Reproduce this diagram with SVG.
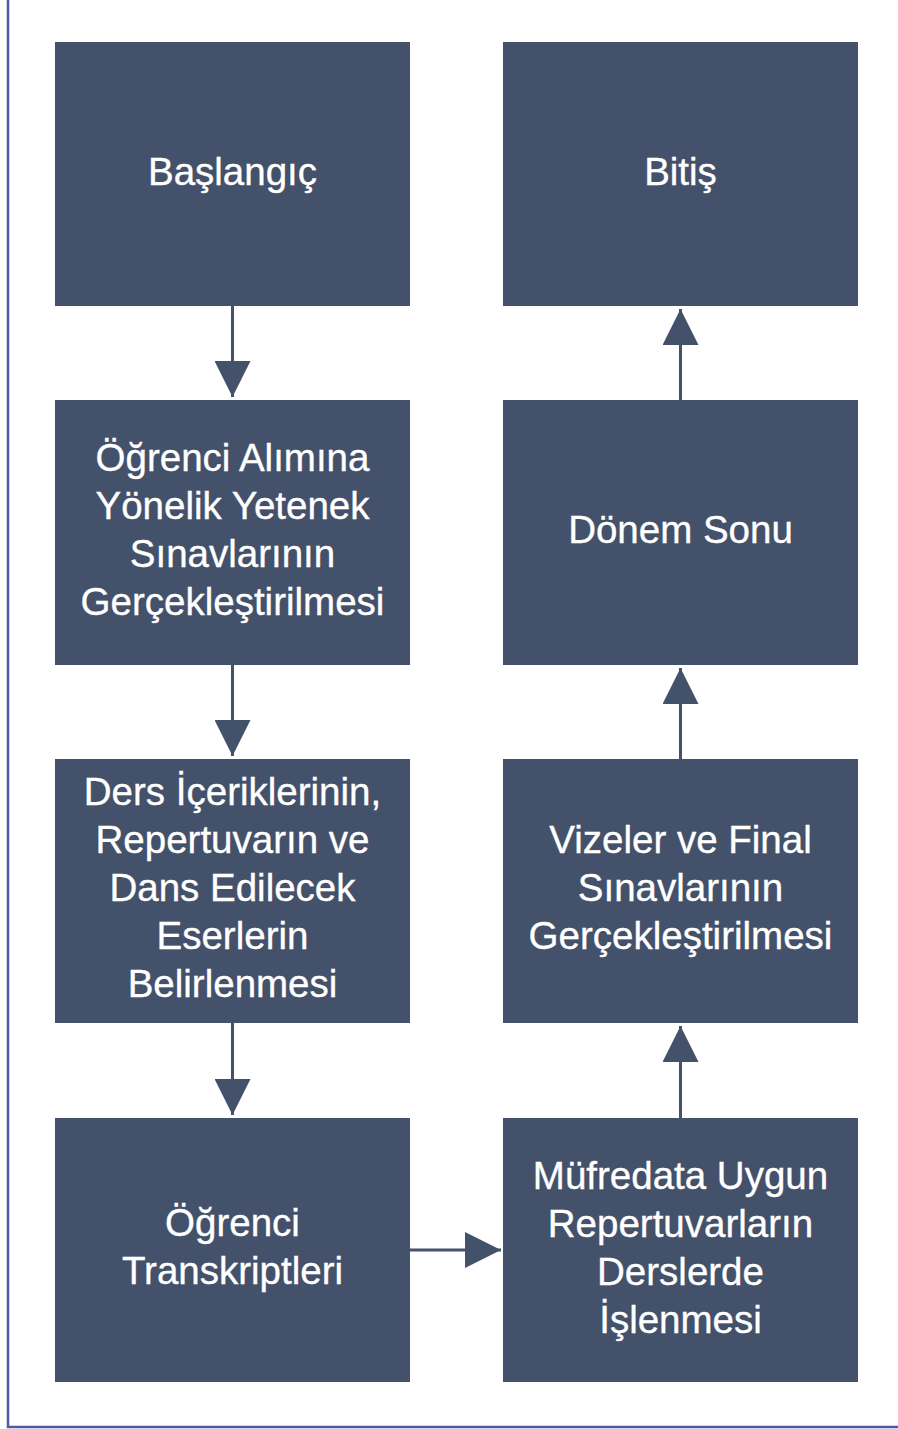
<svg xmlns="http://www.w3.org/2000/svg" width="898" height="1429" viewBox="0 0 898 1429">
<style>
.box{fill:#44516a;}
.t{font-family:"Liberation Sans",Arial,sans-serif;font-size:38.5px;fill:#ffffff;stroke:#ffffff;stroke-width:0.35;text-anchor:middle;}
.c{stroke:#44516a;stroke-width:3;fill:none;}
</style>
<defs>
<marker id="ah" markerUnits="userSpaceOnUse" markerWidth="36" markerHeight="36" refX="35" refY="17.5" orient="auto" viewBox="0 0 35 35">
<path d="M0,0 L35,17.5 L0,35 z" fill="#44516a"/>
</marker>
</defs>
<rect width="898" height="1429" fill="#ffffff"/>
<rect x="8" y="-10" width="900" height="1437" fill="none" stroke="#5058a0" stroke-width="2.5"/>
<g id="connectors">
<line class="c" x1="232.5" y1="306" x2="232.5" y2="397" marker-end="url(#ah)"/>
<line class="c" x1="232.5" y1="665" x2="232.5" y2="756" marker-end="url(#ah)"/>
<line class="c" x1="232.5" y1="1023" x2="232.5" y2="1115" marker-end="url(#ah)"/>
<line class="c" x1="410" y1="1250" x2="501" y2="1250" marker-end="url(#ah)"/>
<line class="c" x1="680.5" y1="1118" x2="680.5" y2="1026" marker-end="url(#ah)"/>
<line class="c" x1="680.5" y1="759" x2="680.5" y2="668" marker-end="url(#ah)"/>
<line class="c" x1="680.5" y1="400" x2="680.5" y2="309" marker-end="url(#ah)"/>
</g>
<g id="n1"><rect class="box" x="55" y="42" width="355" height="264"/>
<text class="t" x="232.5" y="185">Başlangıç</text></g>
<g id="n2"><rect class="box" x="55" y="400" width="355" height="265"/>
<text class="t" x="232.5" y="471">Öğrenci Alımına</text>
<text class="t" x="232.5" y="519">Yönelik Yetenek</text>
<text class="t" x="232.5" y="567">Sınavlarının</text>
<text class="t" x="232.5" y="615">Gerçekleştirilmesi</text></g>
<g id="n3"><rect class="box" x="55" y="759" width="355" height="264"/>
<text class="t" x="232.5" y="805">Ders İçeriklerinin,</text>
<text class="t" x="232.5" y="853">Repertuvarın ve</text>
<text class="t" x="232.5" y="901">Dans Edilecek</text>
<text class="t" x="232.5" y="949">Eserlerin</text>
<text class="t" x="232.5" y="997">Belirlenmesi</text></g>
<g id="n4"><rect class="box" x="55" y="1118" width="355" height="264"/>
<text class="t" x="232.5" y="1236">Öğrenci</text>
<text class="t" x="232.5" y="1284">Transkriptleri</text></g>
<g id="n5"><rect class="box" x="503" y="1118" width="355" height="264"/>
<text class="t" x="680.5" y="1189">Müfredata Uygun</text>
<text class="t" x="680.5" y="1237">Repertuvarların</text>
<text class="t" x="680.5" y="1285">Derslerde</text>
<text class="t" x="680.5" y="1333">İşlenmesi</text></g>
<g id="n6"><rect class="box" x="503" y="759" width="355" height="264"/>
<text class="t" x="680.5" y="853">Vizeler ve Final</text>
<text class="t" x="680.5" y="901">Sınavlarının</text>
<text class="t" x="680.5" y="949">Gerçekleştirilmesi</text></g>
<g id="n7"><rect class="box" x="503" y="400" width="355" height="265"/>
<text class="t" x="680.5" y="543">Dönem Sonu</text></g>
<g id="n8"><rect class="box" x="503" y="42" width="355" height="264"/>
<text class="t" x="680.5" y="185">Bitiş</text></g>
</svg>
